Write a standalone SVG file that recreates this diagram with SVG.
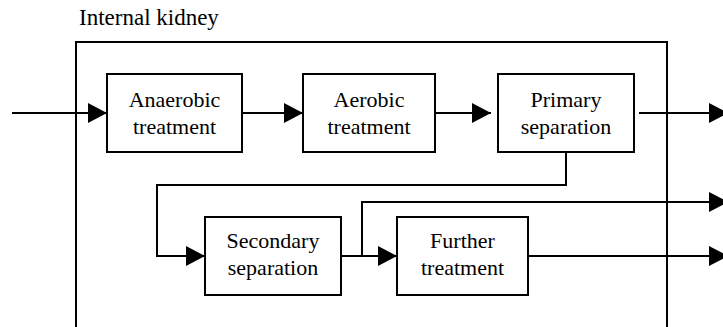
<svg xmlns="http://www.w3.org/2000/svg" width="723" height="327" viewBox="0 0 723 327">
  <style>
    .box { fill: #ffffff; stroke: #000000; stroke-width: 2; }
    .frame { fill: none; stroke: #000000; stroke-width: 2; }
    .conn { fill: none; stroke: #000000; stroke-width: 2; marker-end: url(#arrow); }
    .lbl { text-anchor: middle; }
  </style>
  <defs>
    <marker id="arrow" markerUnits="userSpaceOnUse" markerWidth="19" markerHeight="20" refX="19" refY="10" orient="auto">
      <path d="M0,0 L19,10 L0,20 Z" fill="#000000"/>
    </marker>
  </defs>
  <g font-family="'Liberation Serif', 'DejaVu Serif', serif" font-size="22" fill="#000000">
  <g id="internal-kidney">
    <rect class="frame" x="76" y="42" width="591" height="300"/>
    <text x="79" y="25" font-size="23">Internal kidney</text>
  </g>
  <g id="connectors">
    <path class="conn" d="M12,113 H107"/>
    <path class="conn" d="M242,113 H303"/>
    <path class="conn" d="M435,113 H491"/>
    <path class="conn" d="M639,113 H728"/>
    <path class="conn" d="M566,152 V185 H157 V256 H205"/>
    <path class="conn" d="M341,256 H397"/>
    <path class="conn" d="M362,256 V202 H728"/>
    <path class="conn" d="M528,256 H728"/>
  </g>
  <g id="anaerobic">
    <rect class="box" x="107" y="74" width="135" height="78"/>
    <text class="lbl" x="174.5" y="106.5">Anaerobic</text>
    <text class="lbl" x="174.5" y="133.5">treatment</text>
  </g>
  <g id="aerobic">
    <rect class="box" x="303" y="74" width="132" height="78"/>
    <text class="lbl" x="369" y="106.5">Aerobic</text>
    <text class="lbl" x="369" y="133.5">treatment</text>
  </g>
  <g id="primary">
    <rect class="box" x="498" y="74" width="136" height="78"/>
    <text class="lbl" x="566" y="106.5">Primary</text>
    <text class="lbl" x="566" y="133.5">separation</text>
  </g>
  <g id="secondary">
    <rect class="box" x="205" y="217" width="136" height="78"/>
    <text class="lbl" x="273" y="248">Secondary</text>
    <text class="lbl" x="273" y="275">separation</text>
  </g>
  <g id="further">
    <rect class="box" x="397" y="217" width="131" height="78"/>
    <text class="lbl" x="462.5" y="248">Further</text>
    <text class="lbl" x="462.5" y="275">treatment</text>
  </g>
  </g>
</svg>
